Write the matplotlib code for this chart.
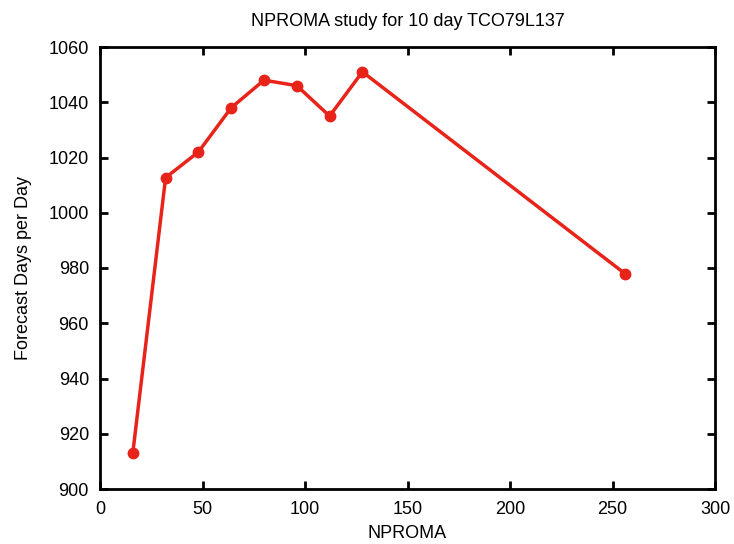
import matplotlib
matplotlib.use("Agg")
import matplotlib.pyplot as plt

nproma = [16, 32, 48, 64, 80, 96, 112, 128, 256]
fdpd = [913, 1012.7, 1022, 1038, 1048, 1046, 1035, 1051, 978]
xticks = [0, 50, 100, 150, 200, 250, 300]
yticks = [900, 920, 940, 960, 980, 1000, 1020, 1040, 1060]

plt.rcParams['font.family'] = ['Liberation Sans', 'DejaVu Sans']
plt.rcParams['font.size'] = 13

fig = plt.figure(figsize=(7.34, 5.44), dpi=100)
ax = fig.add_axes([100/734, 1-489/544, 615/734, 442/544])
ax.plot(nproma, fdpd, color='#e8231a', lw=2.5, marker='o', ms=7.5, solid_joinstyle='miter')
ax.set_xlim(0, 300)
ax.set_ylim(900, 1060)
ax.set_xticks(xticks)
ax.set_yticks(yticks)
ax.tick_params(axis='both', direction='in', length=6, width=2, top=True, right=True, labelsize=13)
ax.tick_params(axis='x', pad=9)
ax.tick_params(axis='y', pad=8)
for s in ax.spines.values():
    s.set_linewidth(2)
ax.set_title('NPROMA study for 10 day TCO79L137', fontsize=13, pad=15)
ax.set_xlabel('NPROMA', fontsize=13, labelpad=5)
ax.set_ylabel('Forecast Days per Day', fontsize=13, labelpad=12)
fig.savefig('out.png', dpi=100)
